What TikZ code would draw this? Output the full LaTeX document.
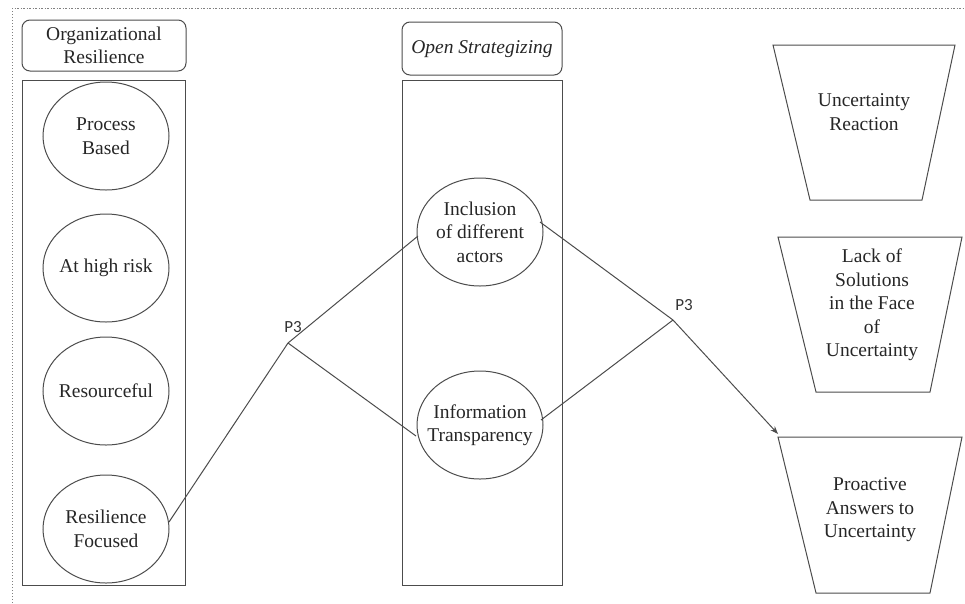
\documentclass[tikz,border=0pt]{standalone}
\usepackage{fontspec}
\setmainfont{Liberation Serif}
\newfontfamily\pfont{Carlito}
\usetikzlibrary{arrows.meta}
\begin{document}
\begin{tikzpicture}[x=1pt,y=-1pt,
  line/.style={draw=black!70, line width=1pt},
  txt/.style={font=\fontsize{19.5}{23.5}\selectfont, align=center, text=black!85},
  hbox/.style={line, rounded corners=8pt},
  oval/.style={line},
  plabel/.style={font=\pfont\fontsize{17}{19}\selectfont, text=black!80}]
\useasboundingbox (0,0) rectangle (965,603);
% dotted frame
\draw[black!50, dash pattern=on 1.5pt off 2pt on 0.5pt off 2pt, line width=0.7pt] (12,603) -- (12,8) -- (965,8);
% left column
\draw[hbox] (22,20) rectangle (186,71);
\node[txt] (orgh) at (104,45.5) {Organizational\\Resilience};
\draw[line] (22,80) rectangle (185,585);
\draw[oval] (106,136) ellipse [x radius=63, y radius=54];
\node[txt] (pb) at (106,136) {Process\\Based};
\draw[oval] (106,268) ellipse [x radius=63, y radius=54];
\node[txt] (hr) at (106,268) {At high risk};
\draw[oval] (106,391) ellipse [x radius=63, y radius=54];
\node[txt] (rs) at (106,391) {Resourceful};
\draw[oval] (106,529) ellipse [x radius=63, y radius=54];
\node[txt] (rf) at (106,529) {Resilience\\Focused};
\coordinate (rfR) at (169,522);
% middle column
\draw[hbox] (402,22) rectangle (562,75);
\node[txt, font=\fontsize{19.5}{23.5}\selectfont\itshape] (osh) at (482,49) {Open Strategizing};
\draw[line] (402,80) rectangle (562,585);
\draw[oval] (480,232) ellipse [x radius=63, y radius=54];
\node[txt] (inc) at (480,232) {Inclusion\\of different\\actors};
\draw[oval] (480,425) ellipse [x radius=63, y radius=54];
\node[txt] (it) at (480,425) {Information\\Transparency};
\coordinate (incL) at (418,236);
\coordinate (itL) at (416,436);
\coordinate (incR) at (540,222);
\coordinate (itR) at (541,420);
% P3 points
\coordinate (p3a) at (288,343);
\node[plabel] (p3al) at (293,327) {P3};
\coordinate (p3b) at (673,320);
\node[plabel] (p3bl) at (684,305) {P3};
% right trapezoids
\draw[line] (773,45) -- (955,45) -- (922,200) -- (810,200) -- cycle;
\node[txt] (ur) at (864,112) {Uncertainty\\Reaction};
\draw[line] (778,237) -- (962,237) -- (930,392) -- (816,392) -- cycle;
\node[txt] (ls) at (872,305) {Lack of\\Solutions\\in the Face\\of\\Uncertainty};
\draw[line] (778,437) -- (962,437) -- (930,593) -- (816,593) -- cycle;
\node[txt] (pa) at (870,510) {Proactive\\Answers to\\Uncertainty};
\coordinate (paTL) at (778,434);
% connectors
\draw[line] (rfR) -- (p3a) -- (incL);
\draw[line] (p3a) -- (itL);
\draw[line] (itR) -- (p3b);
\draw[line, -{Stealth[length=8pt,width=6pt]}] (incR) -- (p3b) -- (paTL);
\end{tikzpicture}
\end{document}
